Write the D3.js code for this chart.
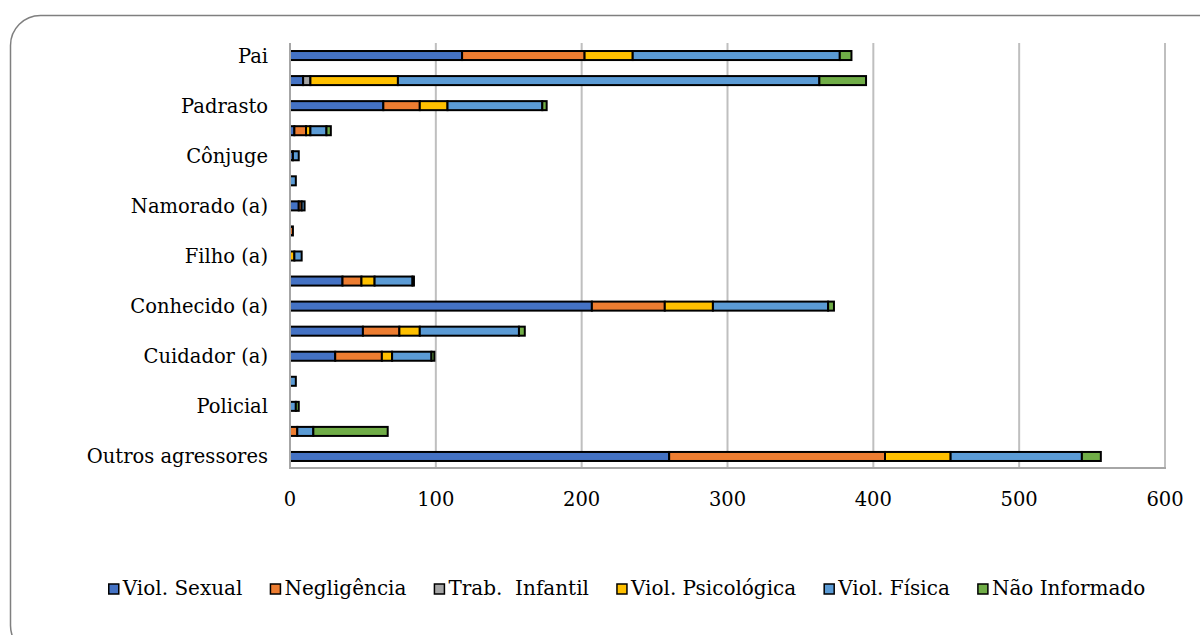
<!DOCTYPE html>
<html>
<head>
<meta charset="utf-8">
<script src="https://cdn.jsdelivr.net/npm/d3@7"></script>
<style>
  html, body { margin: 0; padding: 0; background: #fff; }
  svg { display: block; }
  text { font-family: "DejaVu Serif", "Liberation Serif", serif; fill: #000; }
</style>
</head>
<body>
<svg id="chart" width="1200" height="635"></svg>
<script>
// Aggressor categories (top to bottom); only every other one is labelled
const categories = [
  "Pai", "Mãe", "Padrasto", "Madrasta", "Cônjuge", "Ex-cônjuge",
  "Namorado (a)", "Ex-namorado (a)", "Filho (a)", "Irmão (ã)",
  "Conhecido (a)", "Desconhecido (a)", "Cuidador (a)", "Patrão/chefe",
  "Policial", "Própria pessoa", "Outros agressores"
];

// Series values, one entry per category
const violSexual     = [118,  9, 64, 3, 2, 0, 6, 0, 0, 36, 207, 50, 31, 0, 0, 0, 260];
const negligencia    = [ 84,  0, 25, 8, 0, 0, 2, 2, 0, 13,  50, 25, 32, 0, 0, 5, 148];
const trabInfantil   = [  0,  5,  0, 0, 0, 0, 0, 0, 0,  0,   0,  0,  0, 0, 0, 0,   0];
const violPsicologica= [ 33, 60, 19, 3, 0, 0, 0, 0, 3,  9,  33, 14,  7, 0, 0, 0,  45];
const violFisica     = [142,289, 65,11, 4, 4, 2, 0, 5, 26,  79, 68, 27, 4, 4,11,  90];
const naoInformado   = [  8, 32,  3, 3, 0, 0, 0, 0, 0,  1,   4,  4,  2, 0, 2,51,  13];

const seriesNames  = ["Viol. Sexual", "Negligência", "Trab.  Infantil", "Viol. Psicológica", "Viol. Física", "Não Informado"];
const seriesValues = [violSexual, negligencia, trabInfantil, violPsicologica, violFisica, naoInformado];
const seriesColors = ["#4472C4", "#ED7D31", "#A5A5A5", "#FFC000", "#5B9BD5", "#70AD47"];
const xTicks = [0, 100, 200, 300, 400, 500, 600];

const svg = d3.select("#chart");

// Rounded frame around the whole chart
svg.append("rect")
  .attr("x", 10.5).attr("y", 15.5)
  .attr("width", 1230).attr("height", 640)
  .attr("rx", 30).attr("ry", 30)
  .attr("fill", "none")
  .attr("stroke", "#7f7f7f")
  .attr("stroke-width", 1.5);

const plot = { left: 290, right: 1165, top: 43, bottom: 469 };

const x = d3.scaleLinear().domain([0, 600]).range([plot.left, plot.right]);
const y = d3.scaleBand().domain(categories)
  .range([plot.top, plot.bottom])
  .paddingInner(0.56).paddingOuter(0.28);

// Vertical gridlines
svg.append("g").selectAll("line")
  .data(xTicks.slice(1))
  .join("line")
  .attr("x1", d => x(d)).attr("x2", d => x(d))
  .attr("y1", plot.top).attr("y2", 468)
  .attr("stroke", "#bfbfbf").attr("stroke-width", 2);

// Stack the series
const rows = categories.map((c, i) => {
  const r = { cat: c };
  seriesNames.forEach((s, j) => { r[s] = seriesValues[j][i]; });
  return r;
});
const stacked = d3.stack().keys(seriesNames)(rows);

const bh = y.bandwidth();
svg.append("g").selectAll("g")
  .data(stacked)
  .join("g")
  .attr("fill", (d, i) => seriesColors[i])
  .selectAll("rect")
  .data(d => d.filter(p => p[1] - p[0] > 0))
  .join("rect")
  .attr("x", d => x(d[0]))
  .attr("width", d => x(d[1]) - x(d[0]))
  .attr("y", d => y(d.data.cat) + 1)
  .attr("height", bh - 2)
  .attr("stroke", "#000")
  .attr("stroke-width", 2);

// Axis lines
svg.append("line")
  .attr("x1", plot.left).attr("x2", plot.left)
  .attr("y1", plot.top).attr("y2", 469)
  .attr("stroke", "#a6a6a6").attr("stroke-width", 2);
svg.append("line")
  .attr("x1", plot.left).attr("x2", plot.right + 1)
  .attr("y1", 468).attr("y2", 468)
  .attr("stroke", "#a6a6a6").attr("stroke-width", 2);

// Category labels (every other category)
svg.append("g").selectAll("text")
  .data(categories.filter((c, i) => i % 2 === 0))
  .join("text")
  .attr("x", 268)
  .attr("y", d => y(d) + bh / 2)
  .attr("dy", "0.36em")
  .attr("text-anchor", "end")
  .attr("font-size", 19.5)
  .text(d => d);

// X tick labels
svg.append("g").selectAll("text")
  .data(xTicks)
  .join("text")
  .attr("x", d => x(d))
  .attr("y", 506)
  .attr("text-anchor", "middle")
  .attr("font-size", 19.5)
  .text(d => d);

// Legend
const legend = svg.append("g");
const items = legend.selectAll("g")
  .data(seriesNames)
  .join("g");
items.append("rect")
  .attr("width", 10).attr("height", 10)
  .attr("y", -11)
  .attr("fill", (d, i) => seriesColors[i])
  .attr("stroke", "#000").attr("stroke-width", 1.5);
items.append("text")
  .attr("x", 14)
  .attr("y", 0)
  .attr("font-size", 20)
  .attr("xml:space", "preserve")
  .style("white-space", "pre")
  .text(d => d);

let cursor = 0;
const gap = 28;
const widths = [];
items.each(function () {
  const w = 14 + d3.select(this).select("text").node().getComputedTextLength();
  widths.push(w);
});
const total = d3.sum(widths) + gap * (widths.length - 1);
const startX = 627 - total / 2;
items.attr("transform", (d, i) => {
  const tx = startX + cursor;
  cursor += widths[i] + gap;
  return `translate(${tx},595)`;
});
</script>
</body>
</html>
